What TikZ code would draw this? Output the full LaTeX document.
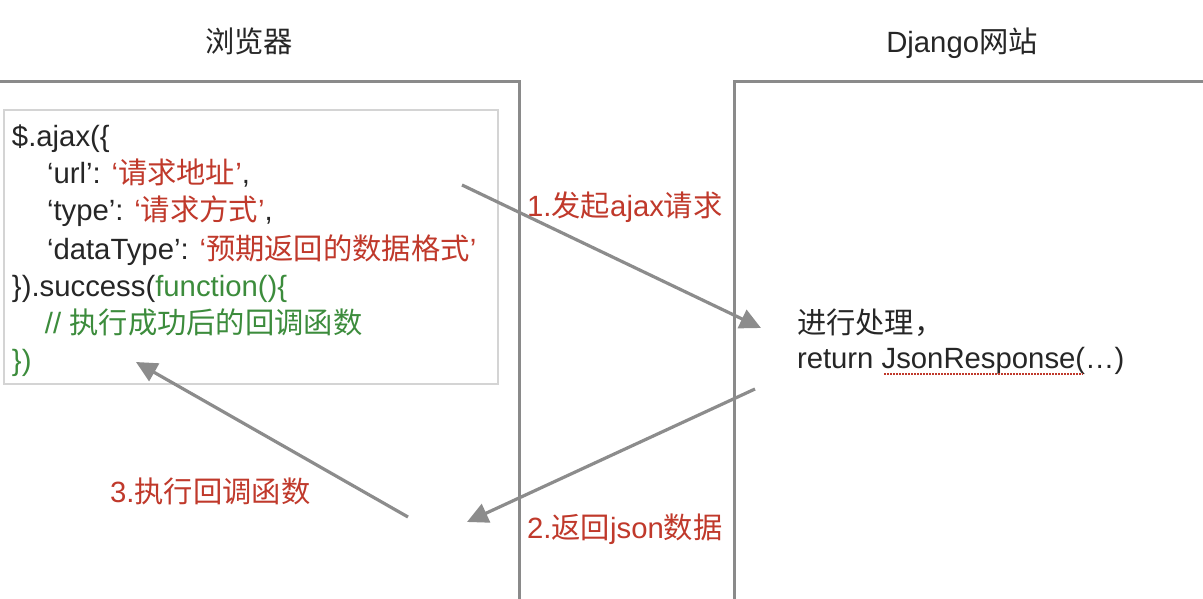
\documentclass[tikz,border=0pt]{standalone}
\usepackage{fontspec}
\setmainfont{Liberation Sans}
\newfontfamily\cjk{Noto Sans CJK SC}
\usetikzlibrary{arrows.meta}
\definecolor{boxgray}{HTML}{8A8A8A}
\definecolor{codegray}{HTML}{D4D4D4}
\definecolor{arrgray}{HTML}{8C8C8C}
\definecolor{txtred}{HTML}{C0392B}
\definecolor{txtgreen}{HTML}{3C8C3C}
\definecolor{txtblack}{HTML}{262626}
\begin{document}
\begin{tikzpicture}[x=1pt,y=-1pt,
  txt/.style={anchor=base west,inner sep=0pt,outer sep=0pt,text=txtblack,font=\fontsize{29.3}{34}\selectfont},
  ttl/.style={anchor=base,inner sep=0pt,text=txtblack,font=\fontsize{29.3}{34}\selectfont},
  lbl/.style={anchor=base west,inner sep=0pt,text=txtred,font=\fontsize{29.3}{34}\selectfont},
  frame/.style={draw=boxgray,line width=3pt},
  flow/.style={draw=arrgray,line width=3.2pt,-{Triangle[length=21pt,width=20pt]}}
]
\useasboundingbox (0,0) rectangle (1203,599);
\clip (0,0) rectangle (1203,599);
\fill[white] (0,0) rectangle (1203,599);

% titles
\node[ttl] (tb) at (249,53) {\cjk 浏览器};
\node[ttl] (td) at (962,53) {Django{\cjk 网站}};

% frames
\draw[frame] (-10,81.5) -- (519,81.5) -- (519,610);
\draw[frame] (734,610) -- (734,81.5) -- (1215,81.5);

% code box
\draw[codegray,line width=1.5pt] (4,110) rectangle (498,384);

\node[txt] (c1) at (12,147) {\$.ajax(\{};
\node[txt] (c2) at (47,184) {‘url’: \textcolor{txtred}{‘{\cjk 请求地址}’},};
\node[txt] (c3) at (47,221) {‘type’: \textcolor{txtred}{‘{\cjk 请求方式}’},};
\node[txt] (c4) at (47,259) {‘dataType’: \textcolor{txtred}{‘{\cjk 预期返回的数据格式}’}};
\node[txt] (c5) at (12,296) {\}).success(\textcolor{txtgreen}{function()\{}};
\node[txt,text=txtgreen] (c6) at (45,333) {// {\cjk 执行成功后的回调函数}};
\node[txt,text=txtgreen] (c7) at (12,370) {\})};

% server side text
\node[txt] (s1) at (797,333) {\cjk 进行处理，};
\node[txt] (s2) at (797,368) {return JsonResponse(…)};
\draw[txtred,line width=1.2pt,dash pattern=on 1.5pt off 1.5pt] (884,374) -- (1083,374);

% labels
\node[lbl] (l1) at (527,217) {1.{\cjk 发起}ajax{\cjk 请求}};
\node[lbl] (l2) at (527,538) {2.{\cjk 返回}json{\cjk 数据}};
\node[lbl] (l3) at (110,502) {3.{\cjk 执行回调函数}};

% arrows
\coordinate (a1s) at (462,185);
\coordinate (a1e) at (761,328);
\coordinate (a2s) at (755,389);
\coordinate (a2e) at (467,522);
\coordinate (a3s) at (408,517);
\coordinate (a3e) at (136,362);
\draw[flow] (a1s) -- (a1e);
\draw[flow] (a2s) -- (a2e);
\draw[flow] (a3s) -- (a3e);
\end{tikzpicture}
\end{document}
